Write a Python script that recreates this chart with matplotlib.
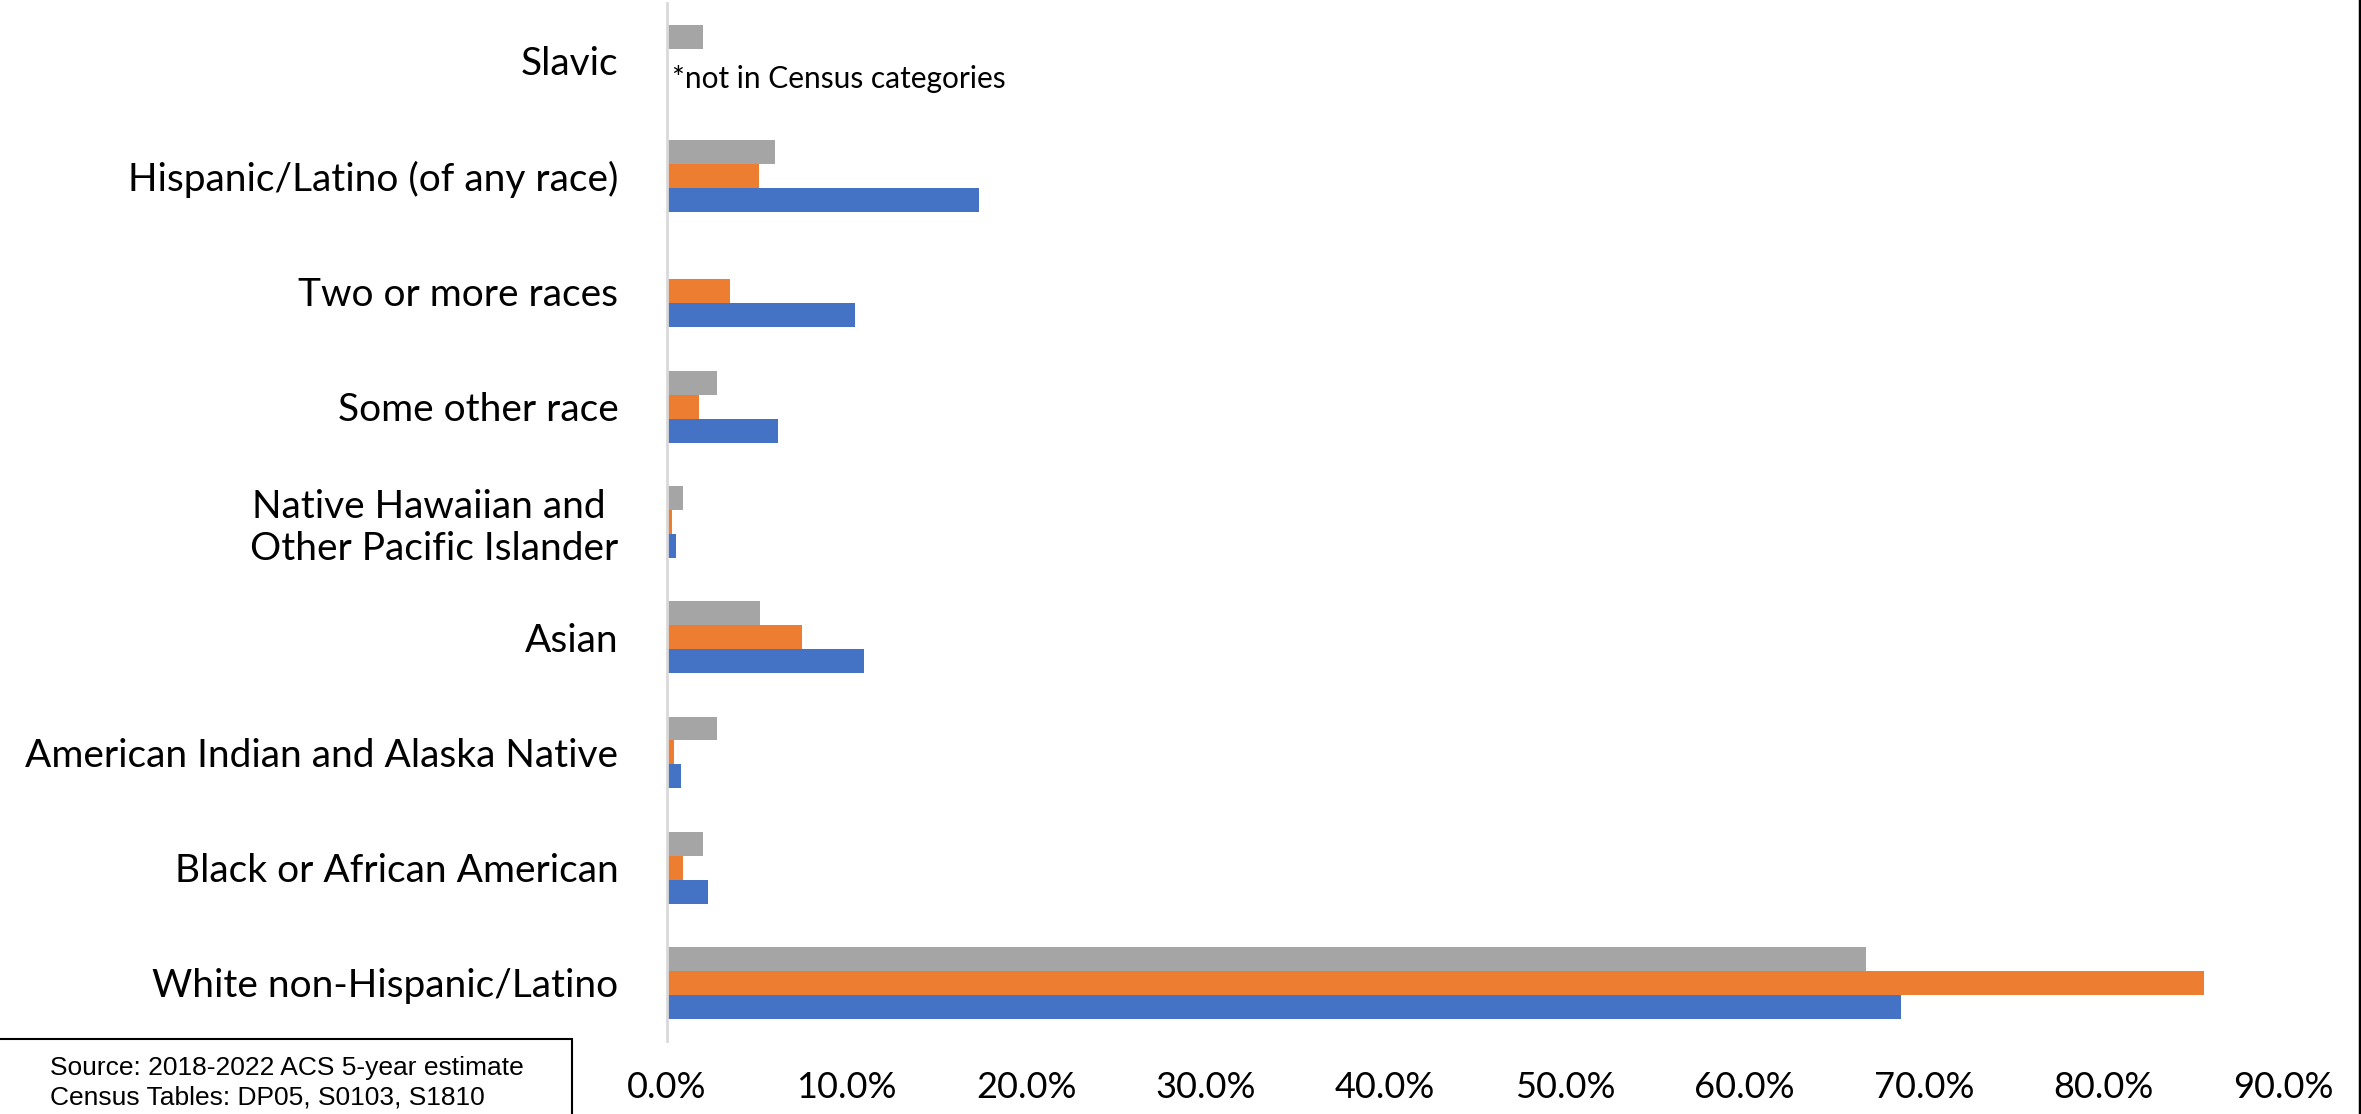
import matplotlib
matplotlib.use("Agg")
import matplotlib.pyplot as plt
import numpy as np
from matplotlib.patches import Rectangle
from matplotlib.lines import Line2D
from matplotlib.ticker import PercentFormatter

# categories listed bottom to top
categories = ["White non-Hispanic/Latino", "Black or African American",
              "American Indian and Alaska Native", "Asian",
              "Native Hawaiian and \nOther Pacific Islander", "Some other race",
              "Two or more races", "Hispanic/Latino (of any race)", "Slavic"]

blue_vals = [68.7, 2.3, 0.8, 10.95, 0.5, 6.2, 10.45, 17.35, np.nan]
orange_vals = [85.6, 0.9, 0.4, 7.5, 0.3, 1.8, 3.5, 5.1, np.nan]
gray_vals = [66.8, 2.0, 2.8, 5.2, 0.9, 2.8, np.nan, 6.0, 2.0]

xticks = np.arange(0, 91, 10)

label_font = ["Lato", "DejaVu Sans"]

fig = plt.figure(figsize=(23.61, 11.14), dpi=100)
ax = fig.add_axes([0.2825, 0.0659, 0.967 - 0.2825, 0.997 - 0.0659])

y = np.arange(len(categories))
h = 0.208
ax.barh(y - h, blue_vals, height=h, color="#4472C4")
ax.barh(y, orange_vals, height=h, color="#ED7D31")
ax.barh(y + h, gray_vals, height=h, color="#A5A5A5")

ax.set_xlim(0, 90)
ax.set_ylim(-0.5, len(categories) - 0.5)
ax.set_xticks(xticks)
ax.xaxis.set_major_formatter(PercentFormatter(decimals=1))
ax.set_yticks(y)
ax.set_yticklabels(categories, multialignment="center")
ax.tick_params(axis="x", length=0, labelsize=26, pad=22)
ax.tick_params(axis="y", length=0, labelsize=28, pad=35)
for lab in ax.get_xticklabels() + ax.get_yticklabels():
    lab.set_family(label_font)

for s in ["top", "right", "bottom"]:
    ax.spines[s].set_visible(False)
ax.spines["left"].set_color("#d9d9d9")
ax.spines["left"].set_linewidth(2)

ax.text(0.3, 7.84, "*not in Census categories", fontsize=21.5,
        family=label_font, va="center", ha="left")

# source box
fig.add_artist(Rectangle((-0.01, -0.05), 0.2523, 0.0673 + 0.05,
                         transform=fig.transFigure, fill=False,
                         edgecolor="black", linewidth=1.5))
src_font = ["Liberation Sans Narrow", "Liberation Sans"]
fig.text(0.0212, 0.0413, "Source: 2018-2022 ACS 5-year estimate", fontsize=19,
         family=src_font, va="center")
fig.text(0.0212, 0.0144, "Census Tables: DP05, S0103, S1810", fontsize=19,
         family=src_font, va="center")

# right border
fig.add_artist(Line2D([0.9994, 0.9994], [0, 1], transform=fig.transFigure,
                      color="black", linewidth=2.5))

fig.savefig("out.png", dpi=100)
